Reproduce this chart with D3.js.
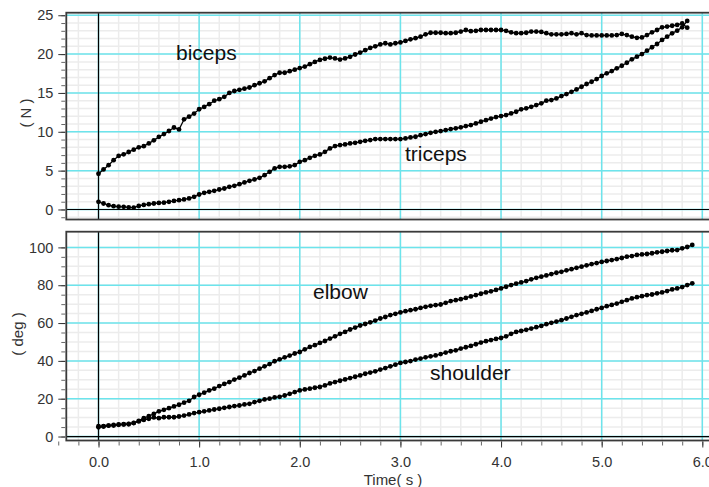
<!DOCTYPE html>
<html>
<head>
<meta charset="utf-8">
<script src="https://cdn.jsdelivr.net/npm/d3@7"></script>
<style>
  body { margin: 0; background: #fff; }
  text { font-family: "Liberation Sans", Arial, sans-serif; }
</style>
</head>
<body>
<div id="main"></div>
<script>
const layout = {
    width: 709,
    height: 487,
    left: 66.3,
    right: 714.4,
    topPanel: { top: 12.7, bottom: 219.5 },
    bottomPanel: { top: 231.7, bottom: 440.5 }
};

// sampling interval of the recording (s)
const sampleStep = 0.05;

// muscle force (N), top panel
const biceps = [4.6,5.15,5.7,6.35,6.9,7.1,7.4,7.7,8.0,8.15,
    8.5,8.9,9.35,9.7,10.1,10.55,10.3,11.6,11.95,12.35,
    12.9,13.2,13.55,14.0,14.2,14.5,15.0,15.25,15.4,15.55,
    15.7,16.0,16.25,16.5,16.9,17.3,17.6,17.6,17.8,18.0,
    18.2,18.4,18.7,19.0,19.25,19.4,19.55,19.45,19.3,19.45,
    19.65,19.95,20.2,20.5,20.8,21.0,21.25,21.4,21.25,21.4,
    21.5,21.7,21.9,22.05,22.25,22.55,22.75,22.75,22.75,22.7,
    22.7,22.75,22.9,23.1,22.95,23.0,23.1,23.1,23.1,23.1,
    23.1,23.0,22.8,22.7,22.7,22.75,22.9,22.9,22.85,22.7,
    22.55,22.55,22.55,22.6,22.7,22.55,22.7,22.45,22.4,22.4,
    22.4,22.4,22.4,22.45,22.6,22.45,22.25,22.1,22.15,22.45,
    22.8,23.1,23.45,23.55,23.65,23.75,23.95,23.4];
const triceps = [0.98,0.77,0.55,0.43,0.36,0.34,0.28,0.25,0.45,0.58,
    0.68,0.77,0.85,0.88,0.98,1.1,1.2,1.29,1.42,1.63,
    1.93,2.14,2.27,2.4,2.57,2.7,2.91,3.04,3.26,3.48,
    3.69,3.87,4.07,4.42,4.85,5.28,5.49,5.49,5.55,5.71,
    6.13,6.35,6.65,6.91,7.09,7.42,7.86,8.16,8.29,8.38,
    8.5,8.58,8.71,8.84,8.93,9.06,9.06,9.06,9.06,9.06,
    9.06,9.15,9.28,9.36,9.57,9.7,9.87,10.0,10.09,10.22,
    10.35,10.44,10.57,10.73,10.86,11.08,11.29,11.5,11.7,11.9,
    12.02,12.15,12.37,12.58,12.89,13.02,13.22,13.44,13.66,14.0,
    14.08,14.3,14.6,14.86,15.15,15.46,15.8,16.15,16.44,16.79,
    17.18,17.53,17.82,18.17,18.5,18.89,19.33,19.67,20.01,20.44,
    20.88,21.3,21.82,22.24,22.68,23.02,23.45,24.27];

// joint angle (deg), bottom panel
const elbow = [5.5,5.5,5.8,6.2,6.4,6.5,6.7,7.2,8.3,9.7,
    10.8,12.0,13.3,14.1,15.0,15.9,16.8,17.9,18.9,20.9,
    22.1,23.2,24.4,25.3,26.7,27.8,28.8,30.1,31.1,32.3,
    33.6,34.6,35.9,37.1,38.3,39.8,40.8,41.9,42.8,43.9,
    44.7,46.1,47.4,48.3,49.5,50.5,51.8,53.0,54.3,55.3,
    56.6,57.6,58.7,59.5,60.4,61.3,62.4,63.2,64.2,64.9,
    65.6,66.3,66.8,67.3,68.0,68.6,69.1,69.5,69.8,70.7,
    71.6,72.1,72.6,73.3,74.1,74.8,75.5,76.2,76.8,77.5,
    78.3,79.2,80.1,80.8,81.5,82.2,83.1,83.9,84.5,85.2,
    85.9,86.6,87.1,87.9,88.5,89.2,89.8,90.5,91.2,91.7,
    92.3,92.8,93.3,93.8,94.4,95.1,95.4,96.0,96.3,96.5,
    96.9,97.4,97.7,98.1,98.5,98.6,99.5,100.2,101.3];
const shoulder = [4.9,5.3,5.8,5.8,6.2,6.4,6.5,7.1,8.0,8.8,
    9.4,10.1,9.7,10.2,10.2,10.2,10.6,11.1,11.7,12.4,
    12.9,13.3,13.8,14.3,14.7,15.2,15.6,16.1,16.4,17.0,
    17.3,18.2,18.9,19.6,20.0,20.7,21.0,21.7,22.6,23.5,
    24.4,24.9,25.3,25.8,26.2,27.0,28.1,28.8,29.5,30.2,
    30.9,31.6,32.3,33.2,33.8,34.5,35.4,36.2,37.1,38.0,
    38.9,39.4,39.9,40.7,41.2,41.9,42.4,42.9,43.6,44.4,
    45.1,45.6,46.5,47.2,47.9,48.8,49.7,50.4,51.0,51.6,
    52.1,53.0,54.3,55.3,55.8,56.4,57.1,57.8,58.5,59.4,
    60.1,60.8,61.5,62.4,63.3,64.2,64.9,65.6,66.4,67.3,
    68.0,68.9,69.6,70.3,71.2,72.1,73.0,73.7,74.2,74.8,
    75.1,75.7,76.2,76.9,77.8,78.3,79.0,80.1,81.0];

// ticks
const timeTicks = [0, 1, 2, 3, 4, 5, 6];
const timeMinorTicks = d3.range(-2, 31).map(d => d / 5);
const forceTicks = [0, 5, 10, 15, 20, 25];
const forceMinorTicks = d3.range(-1, 26);
const angleTicks = [0, 20, 40, 60, 80, 100];
const angleMinorTicks = d3.range(0, 21).map(d => d * 5);

const xDomain = [-0.32, 6.12];
const forceDomain = [-1.29, 25.33];
const angleDomain = [-2.1, 108.3];

const gridColor = "#6ce4ec";
const minorGridColor = "#ececec";
const textColor = "#333";

let svg = d3.select("#main").append("svg")
    .attr("width", layout.width)
    .attr("height", layout.height);

let xScale = d3.scaleLinear().domain(xDomain).range([layout.left, layout.right]);

const toPoints = (values) => values.map((v, i) => ({ t: i * sampleStep, v: v }));

function drawPanel(panel, yDomain, majorY, minorY, series, yLabel, labelPos, notes, id) {
    let yScale = d3.scaleLinear().domain(yDomain).range([panel.bottom, panel.top]);
    let g = svg.append("g");

    g.append("clipPath").attr("id", id)
        .append("rect")
        .attr("x", layout.left).attr("y", panel.top)
        .attr("width", layout.right - layout.left)
        .attr("height", panel.bottom - panel.top);

    let plot = g.append("g").attr("clip-path", `url(#${id})`);

    // minor grid
    plot.selectAll(".minor-x").data(timeMinorTicks).enter().append("line")
        .attr("x1", d => xScale(d)).attr("x2", d => xScale(d))
        .attr("y1", panel.top).attr("y2", panel.bottom)
        .attr("stroke", minorGridColor).attr("stroke-width", 1.5);
    plot.selectAll(".minor-y").data(minorY).enter().append("line")
        .attr("x1", layout.left).attr("x2", layout.right)
        .attr("y1", d => yScale(d)).attr("y2", d => yScale(d))
        .attr("stroke", minorGridColor).attr("stroke-width", 1.5);

    // major grid
    plot.selectAll(".major-x").data(timeTicks).enter().append("line")
        .attr("x1", d => xScale(d)).attr("x2", d => xScale(d))
        .attr("y1", panel.top).attr("y2", panel.bottom)
        .attr("stroke", gridColor).attr("stroke-width", 1.5);
    plot.selectAll(".major-y").data(majorY).enter().append("line")
        .attr("x1", layout.left).attr("x2", layout.right)
        .attr("y1", d => yScale(d)).attr("y2", d => yScale(d))
        .attr("stroke", gridColor).attr("stroke-width", 1.5);

    // zero lines
    plot.append("line")
        .attr("x1", xScale(0)).attr("x2", xScale(0))
        .attr("y1", panel.top).attr("y2", panel.bottom)
        .attr("stroke", "#000").attr("stroke-width", 1.2);
    plot.append("line")
        .attr("x1", layout.left).attr("x2", layout.right)
        .attr("y1", yScale(0)).attr("y2", yScale(0))
        .attr("stroke", "#000").attr("stroke-width", 1.2);

    // series
    let line = d3.line().x(d => xScale(d.t)).y(d => yScale(d.v));
    series.forEach(s => {
        let pts = toPoints(s);
        plot.append("path").datum(pts)
            .attr("d", line)
            .attr("fill", "none")
            .attr("stroke", "#000")
            .attr("stroke-width", 1.3);
        plot.selectAll(null).data(pts).enter().append("circle")
            .attr("cx", d => xScale(d.t))
            .attr("cy", d => yScale(d.v))
            .attr("r", 2.4)
            .attr("fill", "#000");
    });

    // notes
    notes.forEach(n => {
        g.append("text")
            .attr("x", n.x).attr("y", n.y)
            .attr("font-size", 21)
            .attr("fill", "#111")
            .text(n.text);
    });

    // frame
    g.append("rect")
        .attr("x", layout.left).attr("y", panel.top)
        .attr("width", layout.right - layout.left)
        .attr("height", panel.bottom - panel.top)
        .attr("fill", "none")
        .attr("stroke", "#3a3a3a")
        .attr("stroke-width", 1.8);

    // y axis
    let minorAxis = g.append("g")
        .attr("transform", `translate(${layout.left - 1},0)`)
        .call(d3.axisLeft(yScale).tickValues(minorY).tickSize(4).tickFormat(""));
    minorAxis.select(".domain").remove();
    minorAxis.selectAll("line").attr("stroke", "#666");

    let yAxis = g.append("g")
        .attr("transform", `translate(${layout.left - 1},0)`)
        .call(d3.axisLeft(yScale).tickValues(majorY).tickSize(7).tickPadding(5));
    yAxis.select(".domain").remove();
    yAxis.selectAll("line").attr("stroke", "#333");
    yAxis.selectAll("text")
        .attr("fill", textColor)
        .attr("font-size", 14.5)
        .attr("font-family", "Liberation Sans, Arial, sans-serif");

    g.append("text")
        .attr("transform", `translate(${labelPos[0]},${labelPos[1]}) rotate(-90)`)
        .attr("text-anchor", "middle")
        .attr("dominant-baseline", "central")
        .attr("font-size", 15)
        .attr("fill", textColor)
        .text(yLabel);

    return yScale;
}

drawPanel(layout.topPanel, forceDomain, forceTicks, forceMinorTicks,
    [biceps, triceps], "( N )", [25.5, 113],
    [{ text: "biceps", x: 176, y: 60 }, { text: "triceps", x: 405, y: 161 }], "clip-top");

drawPanel(layout.bottomPanel, angleDomain, angleTicks, angleMinorTicks,
    [elbow, shoulder], "( deg )", [17.5, 334],
    [{ text: "elbow", x: 313, y: 299 }, { text: "shoulder", x: 430, y: 380 }], "clip-bottom");

// x axis under the bottom panel
let xMinor = svg.append("g")
    .attr("transform", `translate(0,${layout.bottomPanel.bottom + 1})`)
    .call(d3.axisBottom(xScale).tickValues(timeMinorTicks).tickSize(4).tickFormat(""));
xMinor.select(".domain").remove();
xMinor.selectAll("line").attr("stroke", "#666");

let xAxis = svg.append("g")
    .attr("transform", `translate(0,${layout.bottomPanel.bottom + 1})`)
    .call(d3.axisBottom(xScale).tickValues(timeTicks).tickSize(6).tickPadding(9).tickFormat(d3.format(".1f")));
xAxis.select(".domain").remove();
xAxis.selectAll("line").attr("stroke", "#333");
xAxis.selectAll("text")
    .attr("fill", textColor)
    .attr("font-size", 14.5)
    .attr("font-family", "Liberation Sans, Arial, sans-serif");

svg.append("text")
    .attr("x", 393).attr("y", 485)
    .attr("text-anchor", "middle")
    .attr("font-size", 15)
    .attr("fill", textColor)
    .text("Time( s )");
</script>
</body>
</html>
